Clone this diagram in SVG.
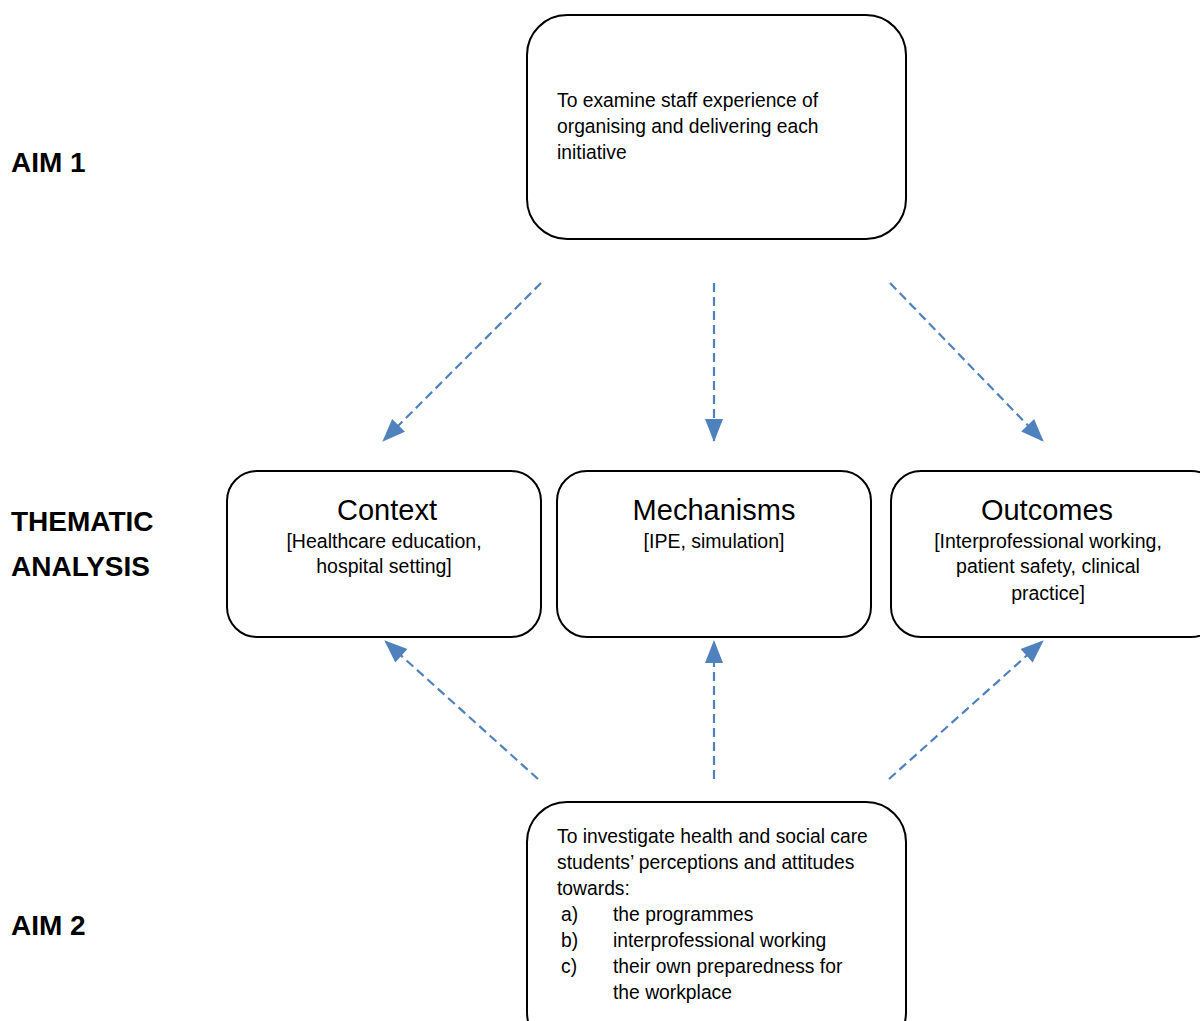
<svg xmlns="http://www.w3.org/2000/svg" width="1200" height="1021" viewBox="0 0 1200 1021">
<style>
.box{fill:#fff;stroke:#000;stroke-width:2}
.t{font-family:"Liberation Sans",Arial,sans-serif;font-size:19.3px;fill:#000}
.h{font-family:"Liberation Sans",Arial,sans-serif;font-size:29px;fill:#000;text-anchor:middle}
.s{font-family:"Liberation Sans",Arial,sans-serif;font-size:19.5px;fill:#000;text-anchor:middle}
.lab{font-family:"Liberation Sans",Arial,sans-serif;font-size:28px;font-weight:bold;fill:#000}
.c{stroke:#4F81BD;stroke-width:2.2;stroke-dasharray:9 5;fill:none;marker-end:url(#ah)}
</style>
<defs>
<marker id="ah" viewBox="0 0 10 10" refX="9" refY="5" markerWidth="10" markerHeight="10" markerUnits="userSpaceOnUse" orient="auto" overflow="visible">
<path d="M-13,-4 L10,5 L-13,14 Z" fill="#4F81BD"/>
</marker>
</defs>
<rect width="1200" height="1021" fill="#fff"/>
<g id="labels">
<text class="lab" x="11" y="172">AIM 1</text>
<text class="lab" x="11" y="531">THEMATIC</text>
<text class="lab" x="11" y="576">ANALYSIS</text>
<text class="lab" x="11" y="935">AIM 2</text>
</g>
<g id="connectors">
<line class="c" x1="541" y1="283" x2="383" y2="441"/>
<line class="c" x1="714" y1="283" x2="714" y2="441"/>
<line class="c" x1="890" y1="283" x2="1043" y2="441"/>
<line class="c" x1="538" y1="779" x2="385" y2="641"/>
<line class="c" x1="714" y1="779" x2="714" y2="641"/>
<line class="c" x1="889" y1="779" x2="1043" y2="641"/>
</g>
<g id="aim1">
<rect class="box" x="527" y="15" width="379" height="224" rx="40"/>
<text class="t" x="557" y="107">To examine staff experience of</text>
<text class="t" x="557" y="133">organising and delivering each</text>
<text class="t" x="557" y="159">initiative</text>
</g>
<g id="context">
<rect class="box" x="227" y="471" width="314" height="166" rx="30"/>
<text class="h" x="387" y="520">Context</text>
<text class="s" x="384" y="548">[Healthcare education,</text>
<text class="s" x="384" y="573">hospital setting]</text>
</g>
<g id="mechanisms">
<rect class="box" x="557" y="471" width="314" height="166" rx="30"/>
<text class="h" x="714" y="520">Mechanisms</text>
<text class="s" x="714" y="548">[IPE, simulation]</text>
</g>
<g id="outcomes">
<rect class="box" x="891" y="471" width="330" height="166" rx="30"/>
<text class="h" x="1047" y="520">Outcomes</text>
<text class="s" x="1048" y="548">[Interprofessional working,</text>
<text class="s" x="1048" y="573">patient safety, clinical</text>
<text class="s" x="1048" y="600">practice]</text>
</g>
<g id="aim2">
<rect class="box" x="527" y="802" width="379" height="250" rx="40"/>
<text class="t" x="557" y="843">To investigate health and social care</text>
<text class="t" x="557" y="869">students’ perceptions and attitudes</text>
<text class="t" x="557" y="895">towards:</text>
<text class="t" x="561" y="921">a)</text>
<text class="t" x="613" y="921">the programmes</text>
<text class="t" x="561" y="947">b)</text>
<text class="t" x="613" y="947">interprofessional working</text>
<text class="t" x="561" y="973">c)</text>
<text class="t" x="613" y="973">their own preparedness for</text>
<text class="t" x="613" y="999">the workplace</text>
</g>
</svg>
